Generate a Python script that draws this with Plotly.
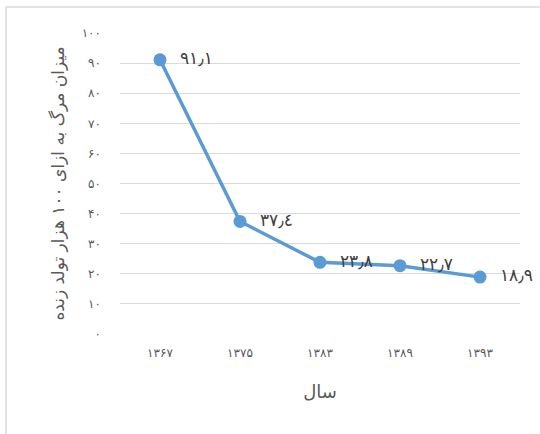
import plotly.graph_objects as go

years = ["۱۳۶۷", "۱۳۷۵", "۱۳۸۳", "۱۳۸۹", "۱۳۹۳"]
values = [91.1, 37.4, 23.8, 22.7, 18.9]
value_labels = ["۹۱٫۱", "۳۷٫٤", "۲۳٫۸", "۲۲٫۷", "۱۸٫۹"]
y_ticks = [0, 10, 20, 30, 40, 50, 60, 70, 80, 90, 100]
y_tick_labels = ["۰", "۱۰", "۲۰", "۳۰", "۴۰", "۵۰", "۶۰", "۷۰", "۸۰", "۹۰", "۱۰۰"]

FONT = "DejaVu Sans"
fig = go.Figure()
fig.add_trace(go.Scatter(
    x=years, y=values, mode="lines+markers+text",
    text=["  " + t for t in value_labels], textposition="middle right",
    textfont=dict(family=FONT, size=17, color="#404040"),
    line=dict(color="#5B9BD5", width=3.5),
    marker=dict(color="#5B9BD5", size=13),
    cliponaxis=False, showlegend=False,
))

L, R, T, B = 120, 20, 33, 100
W, H = 540, 434
pw, ph = W - L - R, H - T - B

def px_x(x):
    return (x - L) / pw

def px_y(y):
    return (H - B - y) / ph

fig.update_layout(
    width=W, height=H,
    margin=dict(l=L, r=R, t=T, b=B, autoexpand=False),
    paper_bgcolor="white", plot_bgcolor="white",
    font=dict(family=FONT, color="#595959"),
    xaxis=dict(
        type="category", range=[-0.5, len(years) - 0.5],
        showgrid=False, zeroline=False, showline=False,
        ticks="", tickfont=dict(size=12, color="#595959"), ticklabelstandoff=10,
        title=dict(text="سال", font=dict(size=18, color="#595959"), standoff=26),
    ),
    yaxis=dict(
        range=[0, 100], tickvals=y_ticks, ticktext=y_tick_labels,
        showgrid=True, gridcolor="#d9d9d9", gridwidth=1,
        zeroline=False, showline=False, ticks="",
        tickfont=dict(size=12, color="#595959"), ticklabelstandoff=18,
        title=dict(text="میزان مرگ به ازای ۱۰۰ هزار تولد زنده",
                   font=dict(size=17, color="#595959"), standoff=12),
    ),
    shapes=[
        dict(type="line", xref="paper", yref="paper",
             x0=px_x(6), y0=px_y(7), x1=px_x(540), y1=px_y(7),
             line=dict(color="#d9d9d9", width=1.5)),
        dict(type="line", xref="paper", yref="paper",
             x0=px_x(6), y0=px_y(7), x1=px_x(6), y1=px_y(434),
             line=dict(color="#d9d9d9", width=1.5)),
    ],
)
fig.write_html("out.html", config={"displayModeBar": False},
               post_script="document.body.style.margin='0';")
